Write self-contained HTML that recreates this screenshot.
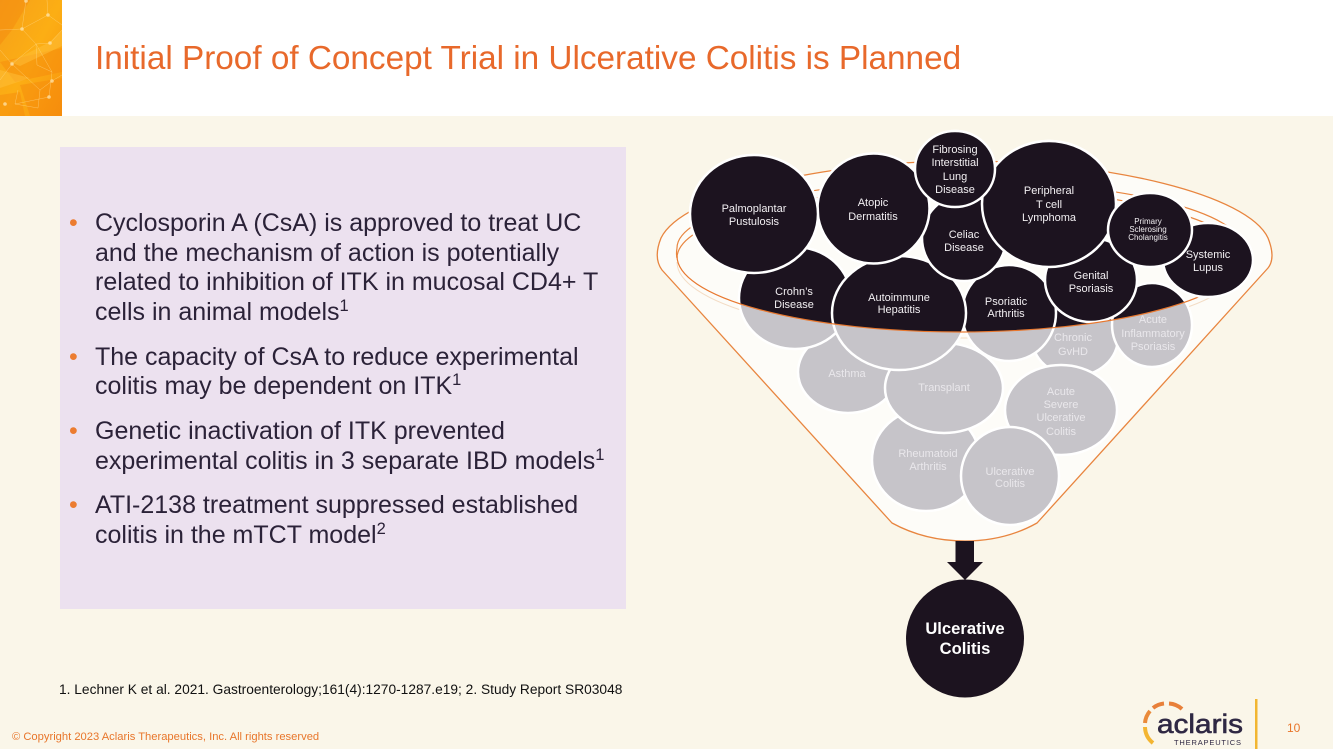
<!DOCTYPE html>
<html><head><meta charset="utf-8"><style>
html,body{margin:0;padding:0;width:1333px;height:749px;overflow:hidden;background:#faf6e9}
svg{display:block;font-family:"Liberation Sans",sans-serif}
.b text{font-size:25px;fill:#2b2238}
.w text{font-size:11px;fill:#f2eff2;text-anchor:middle}
.g text{font-size:11px;fill:#e9e7eb;text-anchor:middle}
</style></head><body>
<svg width="1333" height="749" viewBox="0 0 1333 749" xmlns="http://www.w3.org/2000/svg">
<defs>
<linearGradient id="o" x1="0" y1="0" x2="1" y2="1"><stop offset="0" stop-color="#f6a01a"/><stop offset=".5" stop-color="#fcae14"/><stop offset="1" stop-color="#f8950e"/></linearGradient>
<clipPath id="top"><path d="M0,0H1333V256H1243A283,76 0 0 1 677,256H0Z"/></clipPath>
<g id="circles" stroke="#fff" stroke-width="2.5">
<ellipse cx="926" cy="460" rx="54" ry="51"/>
<ellipse cx="848" cy="372" rx="50" ry="41"/>
<ellipse cx="1075" cy="338" rx="43" ry="38"/>
<ellipse cx="1061" cy="410" rx="56" ry="45"/>
<ellipse cx="1152" cy="325" rx="40" ry="42"/>
<ellipse cx="944" cy="388" rx="59" ry="45"/>
<ellipse cx="1010" cy="476" rx="49" ry="49"/>
<ellipse cx="795" cy="298" rx="56" ry="51"/>
<ellipse cx="1009" cy="313" rx="47" ry="48"/>
<ellipse cx="1091" cy="280" rx="46" ry="42"/>
<ellipse cx="899" cy="313" rx="67" ry="57"/>
<ellipse cx="964" cy="238" rx="42" ry="43"/>
<ellipse cx="873.500" cy="208.500" rx="56" ry="55"/>
<ellipse cx="754" cy="214" rx="64" ry="59"/>
<ellipse cx="1049" cy="204" rx="67" ry="63"/>
<ellipse cx="955" cy="169" rx="40" ry="38"/>
</g>
</defs>

<rect width="1333" height="116" fill="#fff"/>
<rect y="116" width="1333" height="633" fill="#faf6e9"/>

<!-- header art -->
<rect width="62" height="116" fill="url(#o)"/>
<g fill="#f57f0a" opacity=".35">
<polygon points="0,0 30,0 12,30 0,45"/><polygon points="0,62 62,48 62,72 15,82"/><polygon points="20,85 62,78 62,116 30,116"/><polygon points="0,95 20,92 25,116 0,116"/>
</g>
<g fill="#ffc13a" opacity=".5"><polygon points="10,62 50,42 62,30 62,46 20,66"/><polygon points="0,70 30,78 0,88"/></g>
<g stroke="#ffe3a0" stroke-width=".5" fill="none" opacity=".55">
<path d="M0,30L22,29L48,15L62,25M22,29L36,44L50,43L62,30M12,64L36,44L52,72L49,97L15,104M12,64L0,50M12,64L40,90L52,81M26,0L22,29M48,15L47,0M36,44L37,65L52,72M0,80L12,64M18,90L15,104L38,108M40,90L38,108M52,81L62,75"/>
</g>
<g fill="#ffe9b5" opacity=".7"><circle cx="26" cy="1" r="1.800"/><circle cx="48" cy="15" r="1.800"/><circle cx="22" cy="29" r="1.800"/><circle cx="50" cy="43" r="1.800"/><circle cx="12" cy="64" r="1.800"/><circle cx="52" cy="81" r="1.800"/><circle cx="49" cy="97" r="1.800"/><circle cx="5" cy="104" r="1.800"/></g>

<text x="95" y="69" font-size="33.300" fill="#e8692b">Initial Proof of Concept Trial in Ulcerative Colitis is Planned</text>

<!-- panel -->
<rect x="60" y="147" width="566" height="462" fill="#ece1ef"/>
<g fill="#ec7c30" font-size="25"><text x="69" y="231">•</text><text x="69" y="365">•</text><text x="69" y="439">•</text><text x="69" y="513">•</text></g>
<g class="b">
<text x="95" y="231">Cyclosporin A (CsA) is approved to treat UC</text>
<text x="95" y="261">and the mechanism of action is potentially</text>
<text x="95" y="290">related to inhibition of ITK in mucosal CD4+ T</text>
<text x="95" y="320">cells in animal models<tspan font-size="16.500" dy="-9">1</tspan></text>
<text x="95" y="365">The capacity of CsA to reduce experimental</text>
<text x="95" y="394">colitis may be dependent on ITK<tspan font-size="16.500" dy="-9">1</tspan></text>
<text x="95" y="439">Genetic inactivation of ITK prevented</text>
<text x="95" y="469">experimental colitis in 3 separate IBD models<tspan font-size="16.500" dy="-9">1</tspan></text>
<text x="95" y="513">ATI-2138 treatment suppressed established</text>
<text x="95" y="543">colitis in the mTCT model<tspan font-size="16.500" dy="-9">2</tspan></text>
</g>

<text x="59" y="694" font-size="13.750" fill="#111">1. Lechner K et al. 2021. Gastroenterology;161(4):1270-1287.e19; 2. Study Report SR03048</text>
<text x="12" y="740" font-size="11.200" fill="#e8762b">© Copyright 2023 Aclaris Therapeutics, Inc. All rights reserved</text>

<!-- funnel -->
<path d="M662,270 Q653,258 661,238 C682,195 820,161 965,161 C1110,161 1248,195 1268,238 Q1276,258 1268,268 L1037,523 Q1005,541 965,541 Q925,541 892,523 Z" fill="#fdfcf8" stroke="#e8853f" stroke-width="1.300"/>
<path d="M677,258 A283,76 0 0 0 1243,258" fill="none" stroke="#f3dcc5" stroke-width="1" transform="translate(0,4)"/>
<path d="M677,248 A283,67 0 0 1 1243,248" fill="none" stroke="#e8853f" stroke-width="1.200"/>
<path d="M677,258 A283,70 0 0 1 1243,258" fill="none" stroke="#e8853f" stroke-width="1.200"/>
<path d="M677,248 Q676,254 677,258" fill="none" stroke="#e8853f" stroke-width="1.200"/>

<use href="#circles" fill="#c6c4c9"/>
<g clip-path="url(#top)"><use href="#circles" fill="#1c131f"/></g>
<path d="M677,256 A283,76 0 0 0 1243,256" fill="none" stroke="#e8782f" stroke-width="1.200"/>
<ellipse cx="1208" cy="260" rx="45" ry="37" fill="#1c131f" stroke="#fff" stroke-width="2.500"/>
<ellipse cx="1150" cy="230" rx="42" ry="37" fill="#1c131f" stroke="#fff" stroke-width="2.500"/>

<g class="w">
<text x="754" y="212">Palmoplantar</text><text x="754" y="225">Pustulosis</text>
<text x="873" y="206">Atopic</text><text x="873" y="220">Dermatitis</text>
<text x="955" y="153">Fibrosing</text><text x="955" y="166">Interstitial</text><text x="955" y="180">Lung</text><text x="955" y="193">Disease</text>
<text x="964" y="238">Celiac</text><text x="964" y="251">Disease</text>
<text x="1049" y="194">Peripheral</text><text x="1049" y="208">T cell</text><text x="1049" y="221">Lymphoma</text>
<text x="1148" y="224" style="font-size:8px">Primary</text><text x="1148" y="232" style="font-size:8px">Sclerosing</text><text x="1148" y="240" style="font-size:8px">Cholangitis</text>
<text x="1208" y="258">Systemic</text><text x="1208" y="271">Lupus</text>
<text x="1091" y="279">Genital</text><text x="1091" y="292">Psoriasis</text>
<text x="1006" y="305">Psoriatic</text><text x="1006" y="317">Arthritis</text>
<text x="899" y="301">Autoimmune</text><text x="899" y="313">Hepatitis</text>
<text x="794" y="295">Crohn’s</text><text x="794" y="308">Disease</text>
</g>
<g class="g">
<text x="1153" y="323">Acute</text><text x="1153" y="337">Inflammatory</text><text x="1153" y="350">Psoriasis</text>
<text x="1073" y="341">Chronic</text><text x="1073" y="355">GvHD</text>
<text x="847" y="377">Asthma</text>
<text x="944" y="391">Transplant</text>
<text x="1061" y="395">Acute</text><text x="1061" y="408">Severe</text><text x="1061" y="421">Ulcerative</text><text x="1061" y="435">Colitis</text>
<text x="928" y="457">Rheumatoid</text><text x="928" y="470">Arthritis</text>
<text x="1010" y="475">Ulcerative</text><text x="1010" y="487">Colitis</text>
</g>

<!-- arrow and result -->
<path d="M955.500,541H974V562H983L965,580L947,562H955.500Z" fill="#1c131f"/>
<circle cx="965" cy="638.500" r="59" fill="#1c131f"/>
<g fill="#fff" font-size="16.600" font-weight="bold" text-anchor="middle"><text x="965" y="634">Ulcerative</text><text x="965" y="654">Colitis</text></g>

<!-- logo -->
<g fill="none" stroke-width="4">
<path d="M1153,743 A21,21 0 0 1 1145,727" stroke="#f3b531"/>
<path d="M1145,723 A21,21 0 0 1 1150,711" stroke="#ea8a3a"/>
<path d="M1153,708 A21,21 0 0 1 1164,703.500" stroke="#e8803a"/>
<path d="M1169,703.500 A21,21 0 0 1 1182,709" stroke="#e8803a"/>
</g>
<text x="1157" y="733" font-size="27" fill="#2f2843" stroke="#2f2843" stroke-width=".6" textLength="86" lengthAdjust="spacingAndGlyphs">aclaris</text>
<text x="1174" y="745" font-size="7.500" fill="#2f2843" textLength="67">THERAPEUTICS</text>
<rect x="1255" y="699" width="2.500" height="50" fill="#f2b632"/>
<text x="1287" y="732" font-size="12" fill="#e8762b">10</text>
</svg>
</body></html>
